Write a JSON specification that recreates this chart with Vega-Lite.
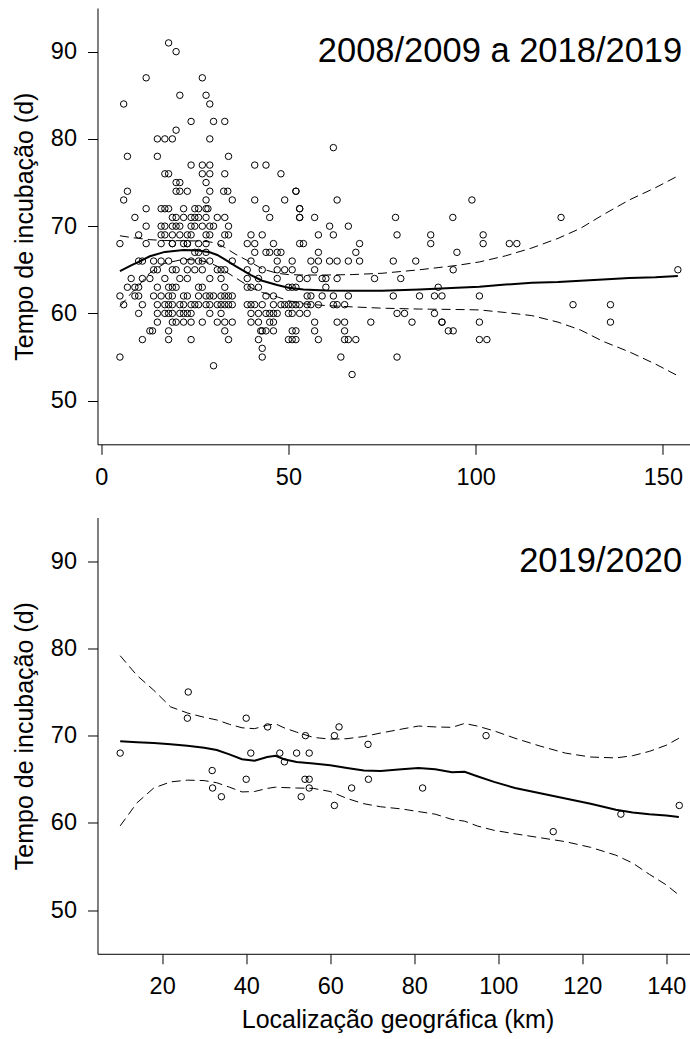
{
  "$schema": "https://vega.github.io/schema/vega-lite/v6.json",
  "padding": {"left": 11.5, "top": 8, "right": 0, "bottom": 0},
  "spacing": 28.5,
  "config": {
    "view": {"stroke": null},
    "font": "Liberation Sans",
    "axis": {"grid": false, "domainColor": "black", "domainWidth": 1, "tickColor": "black", "tickSize": 10, "tickWidth": 1,
      "labelFont": "Liberation Sans", "labelFontSize": 23.5, "labelColor": "black", "labelPadding": 11, "labelFlush": false, "labelOverlap": false,
      "titleFont": "Liberation Sans", "titleFontSize": 25, "titleFontWeight": "normal", "titleColor": "black"}
  },
  "datasets": {
    "lab1": [{"label": "2008/2009 a 2018/2019", "km": 155.15, "d": 88.8}],
    "lab2": [{"label": "2019/2020", "km": 143.8, "d": 88.8}],
    "pts1": [
      {"km":18,"d":91},{"km":20,"d":90},{"km":12,"d":87},{"km":27,"d":87},{"km":21,"d":85},{"km":28,"d":85},{"km":6,"d":84},{"km":29,"d":84},
      {"km":24,"d":82},{"km":30,"d":82},{"km":33,"d":82},{"km":20,"d":81},{"km":15,"d":80},{"km":17,"d":80},{"km":19,"d":80},{"km":29,"d":80},{"km":62,"d":79},
      {"km":7,"d":78},{"km":15,"d":78},{"km":34,"d":78},
      {"km":24,"d":77},{"km":27,"d":77},{"km":29,"d":77},{"km":41,"d":77},{"km":44,"d":77},
      {"km":17,"d":76},{"km":18,"d":76},{"km":27,"d":76},{"km":29,"d":76},{"km":33,"d":76},{"km":48,"d":76},
      {"km":20,"d":75},{"km":21,"d":75},{"km":28,"d":75},
      {"km":7,"d":74},{"km":20,"d":74},{"km":21,"d":74},{"km":23,"d":74},{"km":29,"d":74},{"km":32.7,"d":74},{"km":33.8,"d":74},{"km":52,"d":74},{"km":52,"d":74},
      {"km":6,"d":73},{"km":28,"d":73},{"km":35,"d":73},{"km":41,"d":73},{"km":49,"d":73},{"km":63,"d":73},{"km":99,"d":73},
      {"km":12,"d":72},{"km":16,"d":72},{"km":17,"d":72},{"km":18,"d":72},{"km":22,"d":72},{"km":25,"d":72},{"km":26,"d":72},{"km":28,"d":72},{"km":28.5,"d":72},{"km":44,"d":72},{"km":53,"d":72},{"km":53,"d":72},
      {"km":9,"d":71},{"km":19,"d":71},{"km":20,"d":71},{"km":22,"d":71},{"km":24,"d":71},{"km":25,"d":71},{"km":26,"d":71},{"km":28,"d":71},{"km":31,"d":71},{"km":33,"d":71},{"km":45,"d":71},{"km":53,"d":71},{"km":53,"d":71},{"km":57,"d":71},{"km":78.6,"d":71},{"km":93.9,"d":71},{"km":122.8,"d":71},
      {"km":12,"d":70},{"km":16,"d":70},{"km":17,"d":70},{"km":19,"d":70},{"km":20,"d":70},{"km":21,"d":70},{"km":24,"d":70},{"km":25,"d":70},{"km":27,"d":70},{"km":29,"d":70},{"km":30,"d":70},{"km":34,"d":70},{"km":61,"d":70},{"km":66,"d":70},
      {"km":10,"d":69},{"km":16,"d":69},{"km":17,"d":69},{"km":19,"d":69},{"km":21,"d":69},{"km":23,"d":69},{"km":24,"d":69},{"km":28,"d":69},{"km":29,"d":69},{"km":33,"d":69},{"km":34,"d":69},{"km":40,"d":69},{"km":43,"d":69},{"km":58,"d":69},{"km":62,"d":69},{"km":79,"d":69},{"km":88,"d":69},{"km":102,"d":69},
      {"km":5,"d":68},{"km":12,"d":68},{"km":16,"d":68},{"km":19,"d":68},{"km":19,"d":68},{"km":22,"d":68},{"km":23,"d":68},{"km":23,"d":68},{"km":26,"d":68},{"km":28,"d":68},{"km":32,"d":68},{"km":39,"d":68},{"km":41,"d":68},{"km":46,"d":68},{"km":53,"d":68},{"km":54,"d":68},{"km":69,"d":68},{"km":88,"d":68},{"km":102,"d":68},{"km":109,"d":68},{"km":111,"d":68},
      {"km":25,"d":67},{"km":26,"d":67},{"km":28,"d":67},{"km":41,"d":67},{"km":44,"d":67},{"km":45,"d":67},{"km":47,"d":67},{"km":48,"d":67},{"km":58,"d":67},{"km":68,"d":67},{"km":95,"d":67},
      {"km":10,"d":66},{"km":11,"d":66},{"km":14,"d":66},{"km":16,"d":66},{"km":18,"d":66},{"km":22,"d":66},{"km":24,"d":66},{"km":26,"d":66},{"km":27,"d":66},{"km":29,"d":66},{"km":35,"d":66},{"km":40,"d":66},{"km":47,"d":66},{"km":51,"d":66},{"km":56,"d":66},{"km":58,"d":66},{"km":61,"d":66},{"km":63,"d":66},{"km":66,"d":66},{"km":69,"d":66},{"km":78,"d":66},{"km":84,"d":66},
      {"km":14,"d":65},{"km":15,"d":65},{"km":19,"d":65},{"km":20,"d":65},{"km":23,"d":65},{"km":25,"d":65},{"km":27,"d":65},{"km":31,"d":65},{"km":32,"d":65},{"km":33,"d":65},{"km":39,"d":65},{"km":43,"d":65},{"km":47,"d":65},{"km":49,"d":65},{"km":51,"d":65},{"km":57,"d":65},{"km":94,"d":65},{"km":154,"d":65},
      {"km":8,"d":64},{"km":11,"d":64},{"km":13,"d":64},{"km":17,"d":64},{"km":21,"d":64},{"km":23,"d":64},{"km":29,"d":64},{"km":32,"d":64},{"km":39,"d":64},{"km":42,"d":64},{"km":47,"d":64},{"km":53,"d":64},{"km":55,"d":64},{"km":59,"d":64},{"km":60,"d":64},{"km":63,"d":64},{"km":73,"d":64},{"km":80,"d":64},
      {"km":7,"d":63},{"km":9,"d":63},{"km":10,"d":63},{"km":15,"d":63},{"km":18,"d":63},{"km":19,"d":63},{"km":20,"d":63},{"km":26,"d":63},{"km":27,"d":63},{"km":33,"d":63},{"km":39,"d":63},{"km":40,"d":63},{"km":42,"d":63},{"km":50,"d":63},{"km":51,"d":63},{"km":52,"d":63},{"km":60,"d":63},{"km":90,"d":63},
      {"km":5,"d":62},{"km":9,"d":62},{"km":10,"d":62},{"km":14,"d":62},{"km":16,"d":62},{"km":18,"d":62},{"km":19,"d":62},{"km":22,"d":62},{"km":23,"d":62},{"km":26,"d":62},{"km":28,"d":62},{"km":29,"d":62},{"km":30,"d":62},{"km":32,"d":62},{"km":33,"d":62},{"km":34,"d":62},{"km":35,"d":62},{"km":44,"d":62},{"km":46,"d":62},{"km":55,"d":62},{"km":56,"d":62},{"km":59,"d":62},{"km":62,"d":62},{"km":66,"d":62},{"km":78,"d":62},{"km":85,"d":62},{"km":89,"d":62},{"km":91,"d":62},{"km":101,"d":62},
      {"km":6,"d":61},{"km":11,"d":61},{"km":15,"d":61},{"km":17,"d":61},{"km":18,"d":61},{"km":19,"d":61},{"km":21,"d":61},{"km":22,"d":61},{"km":24,"d":61},{"km":25,"d":61},{"km":26,"d":61},{"km":28,"d":61},{"km":29,"d":61},{"km":31,"d":61},{"km":32,"d":61},{"km":33,"d":61},{"km":34,"d":61},{"km":35,"d":61},{"km":39,"d":61},{"km":40,"d":61},{"km":41,"d":61},{"km":43,"d":61},{"km":46,"d":61},{"km":48,"d":61},{"km":49,"d":61},{"km":50,"d":61},{"km":51,"d":61},{"km":52,"d":61},{"km":53,"d":61},{"km":55,"d":61},{"km":56,"d":61},{"km":58,"d":61},{"km":62,"d":61},{"km":63,"d":61},{"km":65,"d":61},{"km":126,"d":61},{"km":136,"d":61},
      {"km":10,"d":60},{"km":15,"d":60},{"km":17,"d":60},{"km":18,"d":60},{"km":19,"d":60},{"km":21,"d":60},{"km":22,"d":60},{"km":23,"d":60},{"km":24,"d":60},{"km":29,"d":60},{"km":32,"d":60},{"km":40,"d":60},{"km":42,"d":60},{"km":44,"d":60},{"km":45,"d":60},{"km":46,"d":60},{"km":47,"d":60},{"km":50,"d":60},{"km":51,"d":60},{"km":53,"d":60},{"km":55,"d":60},{"km":79,"d":60},{"km":81,"d":60},{"km":89,"d":60},
      {"km":15,"d":59},{"km":19,"d":59},{"km":20,"d":59},{"km":22,"d":59},{"km":24,"d":59},{"km":27,"d":59},{"km":31,"d":59},{"km":33,"d":59},{"km":35,"d":59},{"km":40,"d":59},{"km":42,"d":59},{"km":45,"d":59},{"km":46,"d":59},{"km":57,"d":59},{"km":63,"d":59},{"km":65,"d":59},{"km":72,"d":59},{"km":83,"d":59},{"km":91,"d":59},{"km":91,"d":59},{"km":101,"d":59},{"km":136,"d":59},
      {"km":13,"d":58},{"km":13.7,"d":58},{"km":18,"d":58},{"km":33,"d":58},{"km":42.6,"d":58},{"km":43,"d":58},{"km":44,"d":58},{"km":46,"d":58},{"km":51,"d":58},{"km":52,"d":58},{"km":57,"d":58},{"km":65,"d":58},{"km":92.7,"d":58},{"km":94,"d":58},
      {"km":11,"d":57},{"km":18,"d":57},{"km":24,"d":57},{"km":34,"d":57},{"km":42,"d":57},{"km":50,"d":57},{"km":51,"d":57},{"km":52,"d":57},{"km":58,"d":57},{"km":65,"d":57},{"km":66,"d":57},{"km":68,"d":57},{"km":101,"d":57},{"km":103,"d":57},
      {"km":43,"d":56},{"km":5,"d":55},{"km":43,"d":55},{"km":64,"d":55},{"km":79,"d":55},{"km":30,"d":54},{"km":67,"d":53}
    ],
    "fit1": [
      {"km":5,"fit":64.85,"lo":60.8,"hi":68.9},{"km":8,"fit":65.5,"lo":62.3,"hi":68.7},{"km":10,"fit":65.9,"lo":63.2,"hi":68.6},{"km":13,"fit":66.55,"lo":64.65,"hi":68.45},
      {"km":17,"fit":67.05,"lo":65.75,"hi":68.35},{"km":22,"fit":67.26,"lo":66.2,"hi":68.33},{"km":26,"fit":67.2,"lo":66.1,"hi":68.3},{"km":29,"fit":67.0,"lo":65.8,"hi":68.2},
      {"km":31,"fit":66.7,"lo":65.4,"hi":68.0},{"km":33,"fit":66.2,"lo":64.85,"hi":67.55},{"km":36,"fit":65.4,"lo":64.05,"hi":66.75},{"km":40,"fit":64.4,"lo":62.95,"hi":65.85},
      {"km":43,"fit":63.75,"lo":62.4,"hi":65.1},{"km":47,"fit":63.25,"lo":61.9,"hi":64.6},{"km":50,"fit":62.95,"lo":61.45,"hi":64.45},{"km":54,"fit":62.75,"lo":61.1,"hi":64.4},
      {"km":60,"fit":62.64,"lo":60.9,"hi":64.4},{"km":67,"fit":62.6,"lo":60.75,"hi":64.45},{"km":75,"fit":62.6,"lo":60.6,"hi":64.6},{"km":85,"fit":62.75,"lo":60.5,"hi":65.0},
      {"km":95,"fit":62.95,"lo":60.45,"hi":65.5},{"km":101,"fit":63.05,"lo":60.4,"hi":65.9},{"km":108,"fit":63.3,"lo":60.1,"hi":66.6},{"km":115,"fit":63.5,"lo":59.75,"hi":67.5},
      {"km":122,"fit":63.6,"lo":59.0,"hi":68.6},{"km":128,"fit":63.75,"lo":58.1,"hi":69.75},{"km":134,"fit":63.9,"lo":56.8,"hi":71.3},{"km":141,"fit":64.05,"lo":55.6,"hi":73.0},
      {"km":148,"fit":64.15,"lo":54.2,"hi":74.4},{"km":154,"fit":64.3,"lo":52.85,"hi":75.75}
    ],
    "pts2": [
      {"km":10,"d":68},{"km":26.2,"d":75},{"km":26,"d":72},{"km":40,"d":72},{"km":45.1,"d":71},{"km":54.1,"d":70},{"km":61,"d":70},{"km":62.1,"d":71},{"km":69,"d":69},{"km":97.1,"d":70},
      {"km":41.1,"d":68},{"km":48,"d":68},{"km":49.1,"d":67},{"km":52,"d":68},{"km":55,"d":68},{"km":31.9,"d":66},{"km":40,"d":65},{"km":54,"d":65},{"km":55,"d":65},{"km":69.1,"d":65},
      {"km":32,"d":64},{"km":34.1,"d":63},{"km":55,"d":64},{"km":53.1,"d":63},{"km":65.1,"d":64},{"km":82,"d":64},{"km":61,"d":62},{"km":113.1,"d":59},{"km":129.2,"d":61},{"km":143.1,"d":62}
    ],
    "fit2": [
      {"km":10,"fit":69.37,"lo":59.66,"hi":79.16},{"km":14,"fit":69.25,"lo":62.3,"hi":76.9},{"km":18,"fit":69.15,"lo":64.0,"hi":75.2},{"km":22,"fit":69.0,"lo":64.7,"hi":73.3},
      {"km":26,"fit":68.85,"lo":64.9,"hi":72.6},{"km":30,"fit":68.6,"lo":64.85,"hi":72.1},{"km":33,"fit":68.35,"lo":64.6,"hi":71.8},{"km":36,"fit":67.85,"lo":64.1,"hi":71.3},
      {"km":39,"fit":67.3,"lo":63.55,"hi":70.9},{"km":42,"fit":67.12,"lo":63.6,"hi":70.8},{"km":45,"fit":67.55,"lo":63.95,"hi":71.2},{"km":47,"fit":67.7,"lo":64.1,"hi":71.35},
      {"km":49,"fit":67.3,"lo":64.05,"hi":70.9},{"km":52,"fit":66.97,"lo":64.0,"hi":70.4},{"km":56,"fit":66.8,"lo":63.95,"hi":69.8},{"km":60,"fit":66.6,"lo":63.6,"hi":69.6},
      {"km":64,"fit":66.3,"lo":62.8,"hi":69.65},{"km":68,"fit":66.0,"lo":62.2,"hi":69.9},{"km":72,"fit":65.95,"lo":61.85,"hi":70.3},{"km":77,"fit":66.15,"lo":61.6,"hi":70.75},
      {"km":81,"fit":66.3,"lo":61.3,"hi":71.1},{"km":85,"fit":66.15,"lo":61.0,"hi":71.0},{"km":89,"fit":65.8,"lo":60.4,"hi":70.95},{"km":92,"fit":65.85,"lo":60.2,"hi":71.4},
      {"km":95,"fit":65.35,"lo":59.65,"hi":71.1},{"km":99,"fit":64.7,"lo":59.15,"hi":70.55},{"km":104,"fit":64.0,"lo":58.75,"hi":69.7},{"km":110,"fit":63.4,"lo":58.3,"hi":68.8},
      {"km":116,"fit":62.8,"lo":57.85,"hi":68.0},{"km":122,"fit":62.2,"lo":57.2,"hi":67.55},{"km":128,"fit":61.5,"lo":56.3,"hi":67.45},{"km":132,"fit":61.2,"lo":55.4,"hi":67.7},
      {"km":136,"fit":61.0,"lo":54.1,"hi":68.2},{"km":140,"fit":60.85,"lo":52.9,"hi":68.9},{"km":143,"fit":60.69,"lo":51.73,"hi":69.7}
    ]
  },
  "vconcat": [
    {
      "width": 592.7,
      "height": 436.3,
      "layer": [
        {
          "data": {"name": "pts1"},
          "mark": {"type": "point", "shape": "circle", "filled": false, "color": "black", "size": 42, "strokeWidth": 1, "opacity": 1},
          "encoding": {
            "x": {"field": "km", "type": "quantitative", "scale": {"domain": [-0.99, 157.29], "nice": false, "zero": false},
              "axis": {"values": [0, 50, 100, 150], "title": null}},
            "y": {"field": "d", "type": "quantitative", "scale": {"domain": [45, 95], "nice": false, "zero": false},
              "axis": {"values": [50, 60, 70, 80, 90], "title": "Tempo de incubação (d)", "titlePadding": 13}}
          }
        },
        {
          "data": {"name": "fit1"},
          "mark": {"type": "line", "color": "black", "strokeWidth": 2},
          "encoding": {"x": {"field": "km", "type": "quantitative"}, "y": {"field": "fit", "type": "quantitative"}}
        },
        {
          "data": {"name": "fit1"},
          "mark": {"type": "line", "color": "black", "strokeWidth": 1, "strokeDash": [9, 5]},
          "encoding": {"x": {"field": "km", "type": "quantitative"}, "y": {"field": "lo", "type": "quantitative"}}
        },
        {
          "data": {"name": "fit1"},
          "mark": {"type": "line", "color": "black", "strokeWidth": 1, "strokeDash": [9, 5]},
          "encoding": {"x": {"field": "km", "type": "quantitative"}, "y": {"field": "hi", "type": "quantitative"}}
        },
        {
          "data": {"name": "lab1"},
          "mark": {"type": "text", "align": "right", "baseline": "alphabetic", "fontSize": 34.5, "font": "Liberation Sans", "color": "black"},
          "encoding": {"x": {"field": "km", "type": "quantitative"}, "y": {"field": "d", "type": "quantitative"}, "text": {"field": "label"}}
        },
        {
          "mark": {"type": "rule", "color": "black", "strokeWidth": 1},
          "encoding": {"y": {"datum": 95}}
        }
      ]
    },
    {
      "width": 592.7,
      "height": 436.3,
      "layer": [
        {
          "data": {"name": "pts2"},
          "mark": {"type": "point", "shape": "circle", "filled": false, "color": "black", "size": 42, "strokeWidth": 1, "opacity": 1},
          "encoding": {
            "x": {"field": "km", "type": "quantitative", "scale": {"domain": [4.6, 145.7], "nice": false, "zero": false},
              "axis": {"values": [20, 40, 60, 80, 100, 120, 140], "title": "Localização geográfica (km)", "titlePadding": 9, "titleX": 300}},
            "y": {"field": "d", "type": "quantitative", "scale": {"domain": [45, 95], "nice": false, "zero": false},
              "axis": {"values": [50, 60, 70, 80, 90], "title": "Tempo de incubação (d)", "titlePadding": 13}}
          }
        },
        {
          "data": {"name": "fit2"},
          "mark": {"type": "line", "color": "black", "strokeWidth": 2},
          "encoding": {"x": {"field": "km", "type": "quantitative"}, "y": {"field": "fit", "type": "quantitative"}}
        },
        {
          "data": {"name": "fit2"},
          "mark": {"type": "line", "color": "black", "strokeWidth": 1, "strokeDash": [9, 5]},
          "encoding": {"x": {"field": "km", "type": "quantitative"}, "y": {"field": "lo", "type": "quantitative"}}
        },
        {
          "data": {"name": "fit2"},
          "mark": {"type": "line", "color": "black", "strokeWidth": 1, "strokeDash": [9, 5]},
          "encoding": {"x": {"field": "km", "type": "quantitative"}, "y": {"field": "hi", "type": "quantitative"}}
        },
        {
          "data": {"name": "lab2"},
          "mark": {"type": "text", "align": "right", "baseline": "alphabetic", "fontSize": 34.5, "font": "Liberation Sans", "color": "black"},
          "encoding": {"x": {"field": "km", "type": "quantitative"}, "y": {"field": "d", "type": "quantitative"}, "text": {"field": "label"}}
        },
        {
          "mark": {"type": "rule", "color": "black", "strokeWidth": 1},
          "encoding": {"y": {"datum": 95}}
        }
      ]
    }
  ]
}
